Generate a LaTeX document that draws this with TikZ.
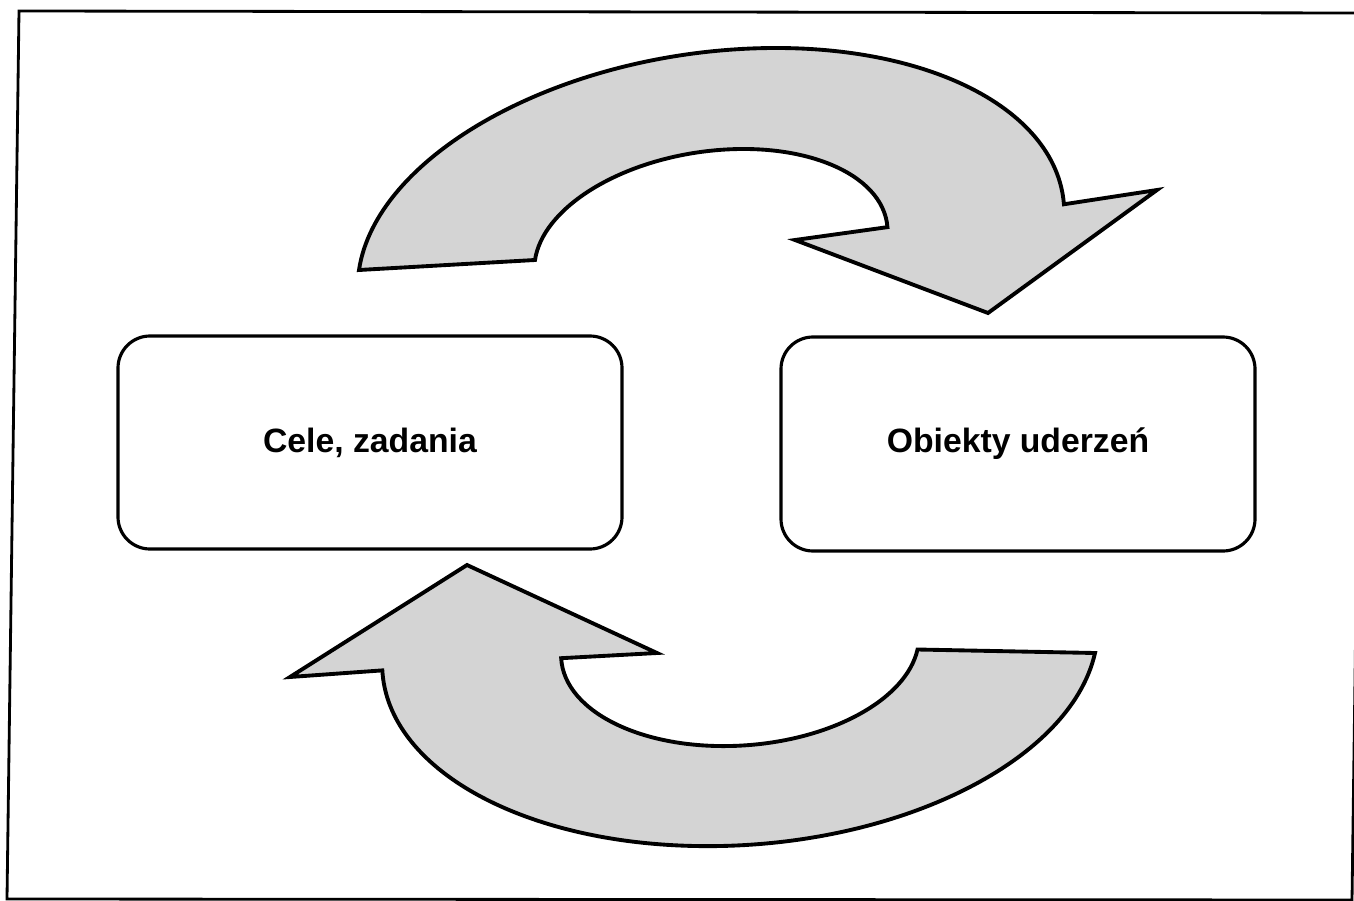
\documentclass[tikz,border=0pt]{standalone}
\usepackage{fontspec}
\setmainfont{Liberation Sans}
\definecolor{arrowfill}{RGB}{212,212,212}
\tikzset{
  cyclearrow/.style={draw=black, line width=1.1pt, fill=arrowfill, line join=miter},
  stagebox/.style={draw=black, line width=0.9pt, rounded corners=0.32cm, fill=white,
    minimum width=5.04cm, minimum height=2.13cm, font=\fontsize{9.6}{11}\selectfont\bfseries},
  frameline/.style={draw=black, line width=0.8pt}
}
\begin{document}
\begin{tikzpicture}
  \useasboundingbox (0,0) rectangle (13.54,-9.01);
  \fill[white] (0,0) rectangle (13.54,-9.01);
  \begin{scope}
    \clip (0,0) rectangle (13.54,-9.01);
    % slightly skewed outer frame
    \draw[frameline] (0.19,-0.11) -- (13.64,-0.13) -- (13.52,-9.00) -- (0.07,-8.99) -- cycle;
  \end{scope}

  % upper circular arrow (left to right); unit-circle arrow mapped onto the sheet
  \begin{scope}[cm={3.52,0.20,0.30,2.01,(7.11,-2.50)}]
    \path[cyclearrow] (-1,0)
      arc[start angle=180, end angle=7.4, radius=1cm]
      -- (1.2522,0.1739) -- (0.8206,-0.3951) -- (0.2364,0.0262)
      -- (7.4:0.5)
      arc[start angle=7.4, end angle=180, radius=0.5cm]
      -- cycle;
  \end{scope}

  % lower circular arrow (right to left)
  \begin{scope}[cm={3.55,-0.07,0.45,2.00,(7.40,-6.46)}]
    \path[cyclearrow] (1,0)
      arc[start angle=0, end angle=-171, radius=1cm]
      -- (-1.2425,-0.1985) -- (-0.8167,0.3764) -- (-0.2284,-0.0430)
      -- (-171:0.5)
      arc[start angle=-171, end angle=0, radius=0.5cm]
      -- cycle;
  \end{scope}

  \node[stagebox] (cele) at (3.70,-4.425) {Cele, zadania};
  \node[stagebox, minimum width=4.74cm, minimum height=2.14cm] (obiekty) at (10.18,-4.44) {Obiekty uderzeń};
\end{tikzpicture}
\end{document}
